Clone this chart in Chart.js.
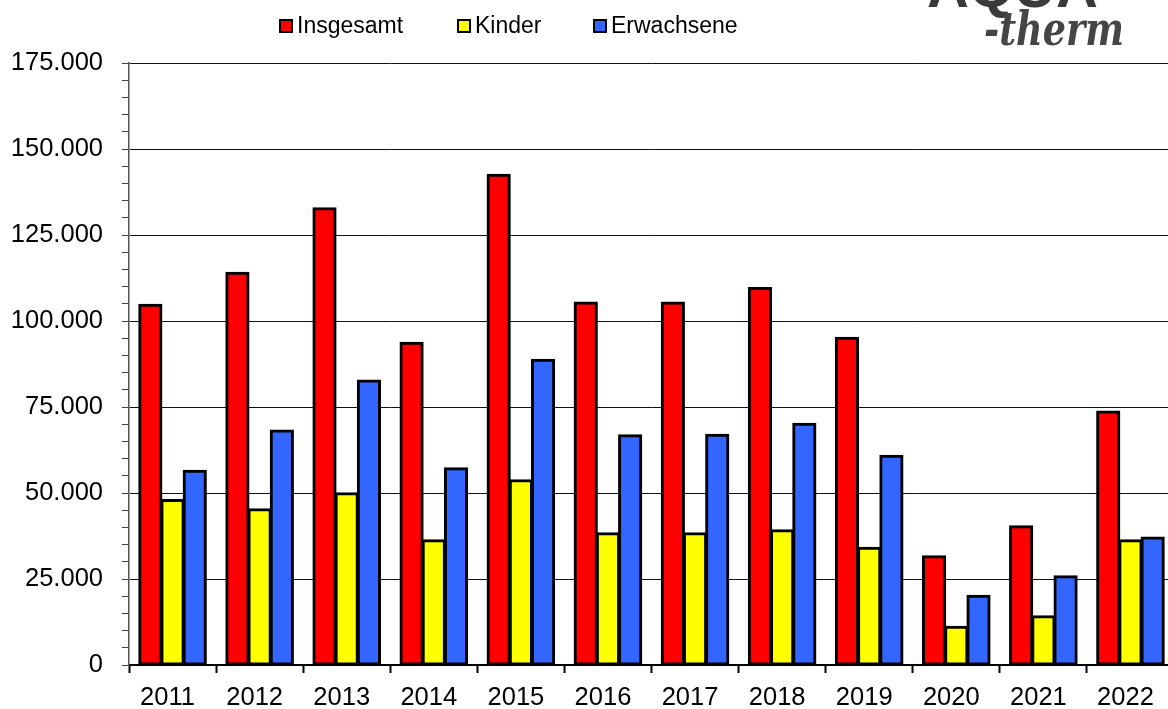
<!DOCTYPE html>
<html lang="de">
<head>
<meta charset="utf-8">
<title>Besucher</title>
<script src="https://cdn.jsdelivr.net/npm/chart.js@4.4.1/dist/chart.umd.min.js"></script>
<style>
  html, body { margin: 0; padding: 0; background: #fff; overflow: hidden; }
  #wrap { width: 1168px; height: 709px; position: relative; overflow: hidden; }
  #c { position: absolute; left: 0; top: 0; }
</style>
</head>
<body>
<div id="wrap"><canvas id="c" width="1180" height="709"></canvas></div>
<script>
// Jahre und Besucherzahlen
const years = ['2011', '2012', '2013', '2014', '2015', '2016', '2017', '2018', '2019', '2020', '2021', '2022'];
const insgesamt = [104700, 114000, 132800, 93700, 142500, 105400, 105400, 109600, 95100, 31600, 40300, 73700];
const kinder = [48000, 45300, 49900, 36300, 53700, 38300, 38300, 39200, 34100, 11100, 14200, 36300];
const erwachsene = [56500, 68200, 82700, 57200, 88700, 66800, 66900, 70100, 60800, 20100, 25800, 37100];
const seriesNames = ['Insgesamt', 'Kinder', 'Erwachsene'];
const seriesColors = ['#FF0000', '#FFFF00', '#3366FF'];

const FONT = "'Liberation Sans', Arial, Helvetica, sans-serif";

function fmtDe(v) {
  return String(Math.round(v)).replace(/\B(?=(\d{3})+(?!\d))/g, '.');
}

// Legende oben, von Hand gezeichnet
const legendPlugin = {
  id: 'topLegend',
  afterDraw(chart) {
    const ctx = chart.ctx;
    const xs = [280, 458, 594];
    ctx.save();
    chart.data.datasets.forEach((ds, i) => {
      const x = xs[i], y = 20;
      ctx.fillStyle = ds.backgroundColor;
      ctx.fillRect(x, y, 12, 12);
      ctx.lineWidth = 2;
      ctx.strokeStyle = '#000';
      ctx.strokeRect(x, y, 12, 12);
      ctx.fillStyle = '#000';
      ctx.font = '23px ' + FONT;
      ctx.textBaseline = 'alphabetic';
      ctx.textAlign = 'left';
      ctx.fillText(ds.label, x + 17, y + 13);
    });
    ctx.restore();
  }
};

// Logo rechts oben
const logoPlugin = {
  id: 'logo',
  afterDraw(chart) {
    const ctx = chart.ctx;
    ctx.save();
    ctx.fillStyle = '#3a3a3a';
    ctx.font = 'bold 58px ' + FONT;
    ctx.textBaseline = 'alphabetic';
    ctx.fillText('AQUA', 927, 7, 172);
    ctx.font = "italic bold 46px 'DejaVu Serif', serif";
    ctx.fillStyle = '#454545';
    ctx.fillText('-therm', 984, 45, 140);
    ctx.restore();
  }
};

const datasets = [insgesamt, kinder, erwachsene].map((vals, i) => ({
  label: seriesNames[i],
  data: vals,
  backgroundColor: seriesColors[i],
  borderColor: '#000',
  borderWidth: 3,
  borderSkipped: false,
  inflateAmount: 1
}));

new Chart(document.getElementById('c'), {
  type: 'bar',
  data: { labels: years, datasets },
  plugins: [legendPlugin, logoPlugin],
  options: {
    responsive: false,
    devicePixelRatio: 1,
    animation: false,
    datasets: {
      bar: { categoryPercentage: 0.765, barPercentage: 1.0 }
    },
    layout: { padding: { top: 63, right: 6, bottom: 0, left: 0 } },
    plugins: {
      legend: { display: false },
      tooltip: { enabled: false }
    },
    scales: {
      x: {
        offset: true,
        afterFit(scale) { scale.height = 44; },
        grid: {
          offset: true,
          drawOnChartArea: false,
          drawTicks: true,
          tickLength: 8,
          tickColor: '#000',
          color: '#000',
          tickWidth: 2
        },
        border: { display: true, color: '#000', width: 2 },
        ticks: {
          color: '#000',
          font: { family: FONT, size: 25.5 },
          padding: 10,
          labelOffset: -5,
          maxRotation: 0,
          autoSkip: false
        }
      },
      y: {
        min: 0,
        max: 175000,
        afterFit(scale) { scale.width = 129; },
        grid: {
          drawTicks: true,
          tickLength: 7,
          color: (c) => (c.tick && c.tick.value % 25000 === 0) ? '#111' : 'rgba(0,0,0,0)',
          tickColor: '#444',
          lineWidth: 1
        },
        border: { display: true, color: '#555', width: 1.5 },
        ticks: {
          stepSize: 5000,
          autoSkip: false,
          color: '#000',
          padding: 19,
          font: { family: FONT, size: 25.5 },
          callback: (v) => (v % 25000 === 0 ? fmtDe(v) : '')
        }
      }
    }
  }
});
</script>
</body>
</html>
